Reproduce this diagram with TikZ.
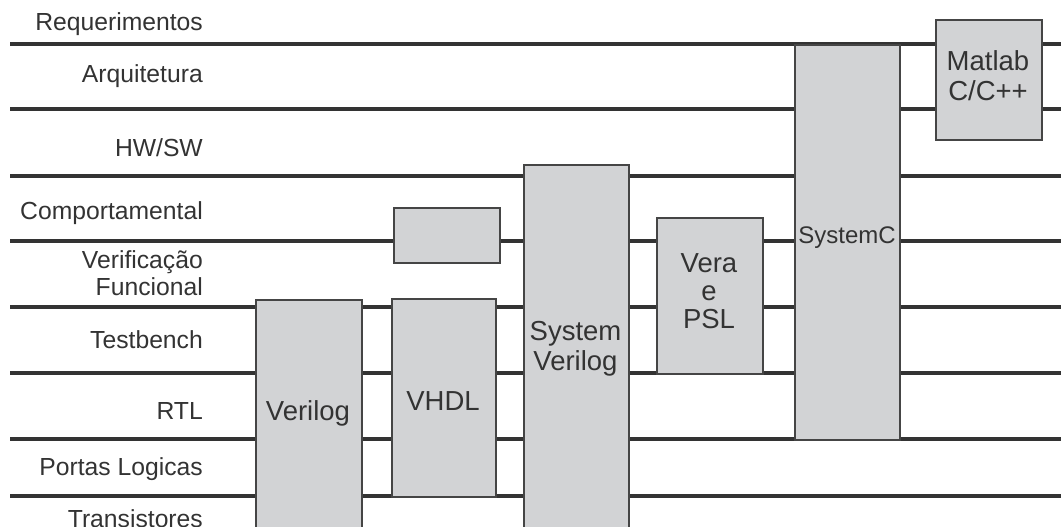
\documentclass[tikz,border=0pt]{standalone}
\usepackage{fontspec}
\setmainfont{Liberation Sans}
\definecolor{ln}{HTML}{333333}
\definecolor{bx}{HTML}{D2D3D5}
\definecolor{bd}{HTML}{454545}
\definecolor{tx}{HTML}{333333}
\begin{document}
\begin{tikzpicture}[x=1pt,y=-1pt,
  level/.style={draw=ln, line width=3.3pt},
  box/.style={draw=bd, fill=bx, line width=1.6pt, anchor=north west, inner sep=0pt},
  lbl/.style={text=tx, font=\fontsize{24.7}{27}\selectfont, anchor=base east, inner sep=0pt},
  btxt/.style={text=tx, font=\fontsize{27.5}{29}\selectfont, anchor=base, inner sep=0pt}]
\useasboundingbox (0,0) rectangle (1061,527);
\foreach \y/\n in {44/l1,109/l2,176/l3,241/l4,307/l5,373/l6,439/l7,496/l8} {
  \coordinate (\n a) at (10,\y);
  \coordinate (\n b) at (1061,\y);
  \draw[level] (\n a) -- (\n b);
}
% level labels
\node[lbl] (t1) at (203,30.5) {Requerimentos};
\node[lbl] (t2) at (203,83) {Arquitetura};
\node[lbl] (t3) at (203,156) {HW/SW};
\node[lbl] (t4) at (203,219) {Comportamental};
\node[lbl] (t5a) at (203,268) {Verificação};
\node[lbl] (t5b) at (203,295) {Funcional};
\node[lbl] (t6) at (203,348) {Testbench};
\node[lbl] (t7) at (203,419) {RTL};
\node[lbl] (t8) at (203,475) {Portas Logicas};
\node[lbl] (t9) at (203,527) {Transistores};
% boxes
\node[box, minimum width=106pt, minimum height=240pt] (verilog) at (255,299) {};
\node[box, minimum width=104pt, minimum height=198pt] (vhdl) at (391,298) {};
\node[box, minimum width=106pt, minimum height=55pt] (small) at (393,207) {};
\node[box, minimum width=105pt, minimum height=375pt] (sv) at (523,164) {};
\node[box, minimum width=106pt, minimum height=156pt] (vera) at (656,217) {};
\node[box, minimum width=105pt, minimum height=395pt] (sc) at (794,44) {};
\node[box, minimum width=106pt, minimum height=120pt] (matlab) at (935,19) {};
% box texts
\node[btxt] (verilogt) at (308,420) {Verilog};
\node[btxt] (vhdlt) at (443,410) {VHDL};
\node[btxt] (svt1) at (575.5,340) {System};
\node[btxt] (svt2) at (575.5,370) {Verilog};
\node[btxt] (verat1) at (709,272) {Vera};
\node[btxt] (verat2) at (709,300) {e};
\node[btxt] (verat3) at (709,328) {PSL};
\node[btxt, font=\fontsize{24}{27}\selectfont] (sct) at (847,243) {SystemC};
\node[btxt] (matt1) at (988,71) {Matlab};
\node[btxt] (matt2) at (988,100) {C/C++};
\end{tikzpicture}
\end{document}
